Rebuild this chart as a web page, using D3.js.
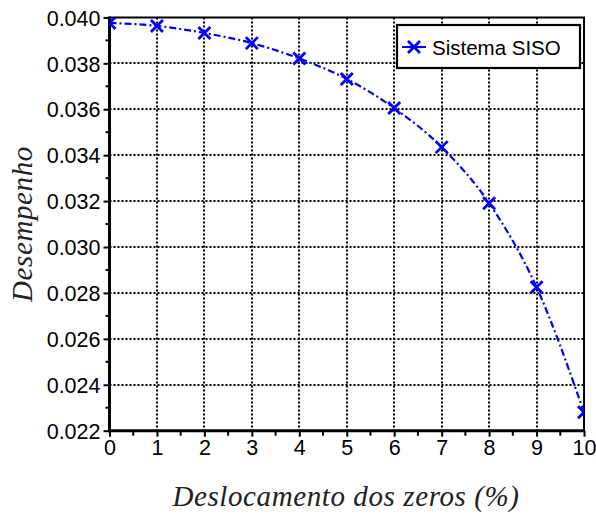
<!DOCTYPE html>
<html><head><meta charset="utf-8">
<script src="https://cdn.jsdelivr.net/npm/d3@7"></script>
<style>body{margin:0;background:#fff}</style>
</head><body>
<svg id="c" width="596" height="515"></svg>
<script>
const xValues = [0,1,2,3,4,5,6,7,8,9,10];
const yValues = [0.03976,0.03963,0.03932,0.03888,0.03821,0.03732,0.03605,0.03435,0.03191,0.02825,0.02280];
const seriesName = "Sistema SISO";
const xTicks = [0,1,2,3,4,5,6,7,8,9,10];
const yTicks = [0.022,0.024,0.026,0.028,0.030,0.032,0.034,0.036,0.038,0.040];
const xLabel = "Deslocamento dos zeros (%)";
const yLabel = "Desempenho";

const svg = d3.select("#c");
const L=109.5, R=584, T=17.4, B=430.7;
const x = d3.scaleLinear().domain([0,10]).range([L,R]);
const y = d3.scaleLinear().domain([0.022,0.040]).range([B,T]);

// grid
const g = svg.append("g");
g.selectAll("line.gx").data(xTicks.slice(1,-1)).join("line")
  .attr("x1",d=>Math.round(x(d))).attr("x2",d=>Math.round(x(d))).attr("y1",T).attr("y2",B)
  .attr("stroke","#000").attr("stroke-width",2).attr("stroke-dasharray","2,2");
g.selectAll("line.gy").data(yTicks.slice(1,-1)).join("line")
  .attr("y1",d=>Math.round(y(d))).attr("y2",d=>Math.round(y(d))).attr("x1",L).attr("x2",R)
  .attr("stroke","#000").attr("stroke-width",2).attr("stroke-dasharray","2,2");

// minor ticks
const xMinor = xTicks.slice(0,-1).map(d=>d+0.5);
const yMinor = yTicks.slice(0,-1).map(d=>d+0.001);
svg.selectAll("line.mx").data(xMinor).join("line")
  .attr("x1",d=>x(d)).attr("x2",d=>x(d)).attr("y1",B).attr("y2",B+5)
  .attr("stroke","#000").attr("stroke-width",2);
svg.selectAll("line.my").data(yMinor).join("line")
  .attr("y1",d=>y(d)).attr("y2",d=>y(d)).attr("x1",L-4).attr("x2",L)
  .attr("stroke","#000").attr("stroke-width",2);

// axes
const xAxis = svg.append("g").attr("transform",`translate(0,${B})`)
  .call(d3.axisBottom(x).tickValues(xTicks).tickFormat(d3.format("d")).tickSize(6).tickPadding(3));
const yAxis = svg.append("g").attr("transform",`translate(${L},0)`)
  .call(d3.axisLeft(y).tickValues(yTicks).tickFormat(d3.format(".3f")).tickSize(6).tickPadding(3));
[xAxis,yAxis].forEach(a=>{
  a.select(".domain").remove();
  a.selectAll(".tick line").attr("stroke","#000").attr("stroke-width",2);
  a.selectAll(".tick text").attr("font-family","Arial, 'Liberation Sans', sans-serif")
    .attr("font-size",21.5).attr("fill","#000");
});
yAxis.selectAll(".tick text").attr("dy","0.36em");

// frame
svg.append("line").attr("x1",L).attr("x2",L).attr("y1",T-1).attr("y2",B+1.5).attr("stroke","#000").attr("stroke-width",3);
svg.append("line").attr("x1",L-1).attr("x2",R+1).attr("y1",B).attr("y2",B).attr("stroke","#000").attr("stroke-width",3);
svg.append("line").attr("x1",L).attr("x2",R+1).attr("y1",T).attr("y2",T).attr("stroke","#000").attr("stroke-width",2);
svg.append("line").attr("x1",R).attr("x2",R).attr("y1",T).attr("y2",B).attr("stroke","#000").attr("stroke-width",2);

// series
const data = xValues.map((d,i)=>({x:d,y:yValues[i]}));
svg.append("clipPath").attr("id","pc").append("rect")
  .attr("x",L).attr("y",T).attr("width",R-L).attr("height",B-T);
const sg = svg.append("g").attr("clip-path","url(#pc)");
sg.append("path").datum(data)
  .attr("d",d3.line().x(d=>x(d.x)).y(d=>y(d.y)).curve(d3.curveMonotoneX))
  .attr("fill","none").attr("stroke","#0000ff").attr("stroke-width",2.2)
  .attr("stroke-dasharray","7,3,2,3");
const s=6;
function cross(sel){
  sel.append("path").attr("d",`M${-s},${-s}L${s},${s}M${-s},${s}L${s},${-s}`)
    .attr("stroke","#0000ff").attr("stroke-width",2.8).attr("fill","none");
}
sg.selectAll("g.m").data(data).join("g")
  .attr("transform",d=>`translate(${x(d.x)},${y(d.y)})`).each(function(){cross(d3.select(this));});

// legend
const lg = svg.append("g");
lg.append("rect").attr("x",397).attr("y",25).attr("width",183).attr("height",43)
  .attr("fill","#fff").attr("stroke","#000").attr("stroke-width",2.2);
lg.append("line").attr("x1",402).attr("x2",426).attr("y1",47).attr("y2",47)
  .attr("stroke","#0000ff").attr("stroke-width",2);
const lm = lg.append("g").attr("transform","translate(414,47)");
cross(lm);
lg.append("text").attr("x",432).attr("y",55).text(seriesName)
  .attr("font-family","Arial, 'Liberation Sans', sans-serif").attr("font-size",20.5).attr("fill","#000");

// axis labels
svg.append("text").attr("x",346).attr("y",506).attr("text-anchor","middle")
  .attr("font-family","'Liberation Serif','Times New Roman',serif").attr("font-style","italic")
  .attr("font-size",29).attr("fill","#222").attr("letter-spacing",0.6).text(xLabel);
svg.append("text").attr("transform",`translate(32,${(T+B)/2}) rotate(-90)`).attr("text-anchor","middle")
  .attr("font-family","'Liberation Serif','Times New Roman',serif").attr("font-style","italic")
  .attr("font-size",29).attr("fill","#222").attr("letter-spacing",0.6).text(yLabel);
</script>
</body></html>
